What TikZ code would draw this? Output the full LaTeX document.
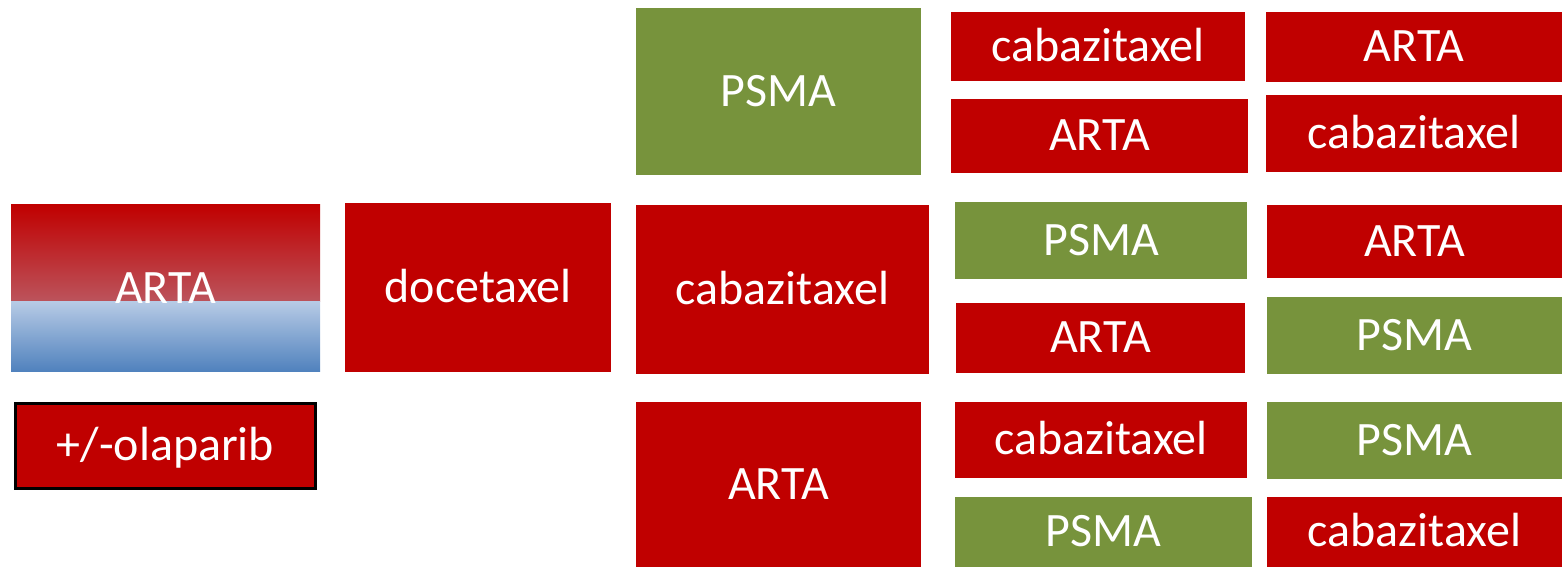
\documentclass[tikz,border=0pt]{standalone}
\usepackage{fontspec}
\setmainfont{Carlito}
\usepackage{tikz}
\definecolor{armred}{HTML}{C00000}
\definecolor{armgreen}{HTML}{77933C}
\definecolor{fadered}{HTML}{B8919F}
\definecolor{fadeblue}{HTML}{B6CAE5}
\definecolor{deepblue}{HTML}{4F81BD}
\tikzset{box/.style={rectangle, inner sep=0pt, outer sep=0pt, text=white, text height=17pt, text depth=0pt, font=\fontsize{27.3}{32}\selectfont},
	redbox/.style={box, fill=armred}, greenbox/.style={box, fill=armgreen}}
\tikzset{boxw/.style={minimum width=#1*0.02cm}, boxh/.style={minimum height=#1*0.02cm}}

\begin{document}
\begin{tikzpicture}[x=0.02cm, y=-0.02cm]
	\useasboundingbox (0,0) rectangle (1562,567);
	% first line
	\coordinate (split) at (11,302);
	\node[box, boxw=309, boxh=167, path picture={
		\shade[top color=armred, bottom color=fadered] (path picture bounding box.north east) rectangle (split);
		\shade[top color=fadeblue, bottom color=deepblue] (split) rectangle (path picture bounding box.south east);
	}] (arta0) at (165.5,288.5) {ARTA};
	\node[redbox, boxw=300, boxh=85, draw=black, line width=0.06cm] (olaparib) at (165.5,446) {+/-olaparib};
	% second line
	\node[redbox, boxw=266, boxh=169] (docetaxel) at (478,287.5) {docetaxel};
	% third line
	\node[greenbox, boxw=285, boxh=167] (psma1) at (778.5,91.5) {PSMA};
	\node[redbox, boxw=293, boxh=169] (caba1) at (782.5,289.5) {cabazitaxel};
	\node[redbox, boxw=285, boxh=165] (arta1) at (778.5,484.5) {ARTA};
	% fourth line
	\node[redbox, boxw=294, boxh=69] (caba2a) at (1098,46.5) {cabazitaxel};
	\node[redbox, boxw=297, boxh=74] (arta2a) at (1099.5,136) {ARTA};
	\node[greenbox, boxw=292, boxh=77] (psma2b) at (1101,240.5) {PSMA};
	\node[redbox, boxw=289, boxh=70] (arta2b) at (1100.5,338) {ARTA};
	\node[redbox, boxw=292, boxh=76] (caba2c) at (1101,440) {cabazitaxel};
	\node[greenbox, boxw=297, boxh=70] (psma2c) at (1103.5,532) {PSMA};
	% fifth line
	\node[redbox, boxw=296, boxh=70] (arta3a) at (1414,47) {ARTA};
	\node[redbox, boxw=296, boxh=77] (caba3a) at (1414,133.5) {cabazitaxel};
	\node[redbox, boxw=295, boxh=73] (arta3b) at (1414.5,241.5) {ARTA};
	\node[greenbox, boxw=295, boxh=77] (psma3b) at (1414.5,335.5) {PSMA};
	\node[greenbox, boxw=295, boxh=77] (psma3c) at (1414.5,440.5) {PSMA};
	\node[redbox, boxw=295, boxh=70] (caba3c) at (1414.5,532) {cabazitaxel};
\end{tikzpicture}
\end{document}
